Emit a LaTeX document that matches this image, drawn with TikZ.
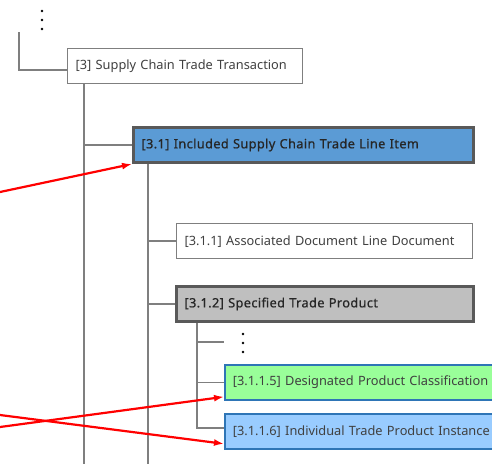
\documentclass[tikz,border=0pt]{standalone}
\usepackage{fontspec}
\setmainfont{Noto Sans}[WordSpace={1.4}]
\newfontfamily\semibold{Noto Sans}[FakeBold=0.7,WordSpace={2.6},LetterSpace=2.8]
\usetikzlibrary{arrows.meta,calc}
\definecolor{linegray}{HTML}{7F7F7F}
\definecolor{boxgray}{HTML}{7F7F7F}
\definecolor{darkedge}{HTML}{595959}
\definecolor{itemblue}{HTML}{5B9BD5}
\definecolor{prodgray}{HTML}{BFBFBF}
\definecolor{classgreen}{HTML}{99FF99}
\definecolor{instblue}{HTML}{99CCFF}
\definecolor{edgeblue}{HTML}{2E75B6}
\definecolor{txtgray}{HTML}{404040}
\tikzset{
  x=1pt, y=-1pt,
  conn/.style={draw=linegray, line width=1.6pt},
  plainbox/.style={draw=boxgray, line width=1.4pt, fill=white, anchor=north west,
    minimum height=35pt, inner xsep=8pt, align=left, text=txtgray,
    font=\fontsize{12.8}{14}\selectfont},
  keybox/.style={plainbox, draw=darkedge, line width=3pt, text=black!85,
    font=\fontsize{12.8}{14}\semibold},
  leafbox/.style={plainbox, draw=edgeblue, line width=1.8pt, text=black!75},
  redarrow/.style={draw=red, line width=2.2pt, -{Latex[length=10pt,width=7pt]}},
  vdot/.style={fill=black, circle, inner sep=0pt, minimum size=2.6pt},
}
\begin{document}
\begin{tikzpicture}
\useasboundingbox (0,0) rectangle (492,464);
\clip (0,0) rectangle (492,464);

% boxes of the tree
\node[plainbox, text width=219pt] (b3) at (67,48) {[3] Supply Chain Trade Transaction};
\node[keybox, text width=324pt, fill=itemblue] (b31) at (132,126) {[3.1] Included Supply Chain Trade Line Item};
\node[plainbox, text width=280pt] (b311) at (176,223) {[3.1.1] Associated Document Line Document};
\node[keybox, text width=281pt, fill=prodgray] (b312) at (175,285) {[3.1.2] Specified Trade Product};
\node[leafbox, text width=300pt, fill=classgreen] (b3115) at (224,364) {[3.1.1.5] Designated Product Classification};
\node[leafbox, text width=300pt, fill=instblue] (b3116) at (224,413) {[3.1.1.6] Individual Trade Product Instance};

% ellipsis marks
\node[vdot] (d1) at (42,11) {};
\node[vdot] (d2) at (42,20) {};
\node[vdot] (d3) at (42,29) {};
\node[vdot] (e1) at (243,334) {};
\node[vdot] (e2) at (243,343) {};
\node[vdot] (e3) at (243,352) {};

% tree connectors
\coordinate (top) at (19,32);
\coordinate (t3) at (84,464);
\coordinate (t31) at (148,464);
\coordinate (t312) at (197,428);
\coordinate (gap) at (224,342);
\draw[conn] (top) |- ([yshift=-4pt]b3.west);
\draw[conn] (b3.south -| t3) -- (t3);
\draw[conn] (t3 |- b31.west) -- (b31.west);
\draw[conn] (b31.south -| t31) -- (t31);
\draw[conn] (t31 |- b311.west) -- (b311.west);
\draw[conn] (t31 |- b312.west) -- (b312.west);
\draw[conn] (b312.south -| t312) -- (t312) -- (t312 -| b3116.west);
\draw[conn] (t312 |- gap) -- (gap);
\draw[conn] (t312 |- b3115.west) -- (b3115.west);

% red pointers
\coordinate (r1) at (0,192);
\coordinate (r2) at (0,427);
\coordinate (r3) at (0,415);
\draw[redarrow] (r1) -- (b31.south west);
\draw[redarrow] (r2) -- ([yshift=4pt]b3115.south west);
\draw[redarrow] (r3) -- ([yshift=6pt]b3116.south west);
\end{tikzpicture}
\end{document}
